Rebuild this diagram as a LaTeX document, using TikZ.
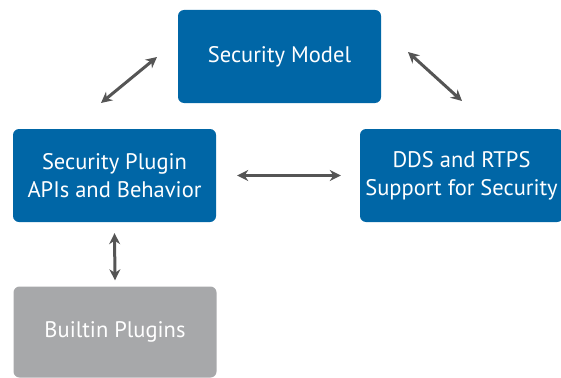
\documentclass[tikz,border=0pt]{standalone}
\usepackage{fontspec}
\setmainfont{PT Sans}
\usetikzlibrary{positioning, arrows, arrows.meta}

\definecolor{secblue}{RGB}{0,102,166}
\definecolor{secgray}{RGB}{167,168,170}
\definecolor{arrowgray}{RGB}{85,85,85}

\tikzset{
    blockbox/.style={fill=secblue, text=white, rounded corners=6pt, minimum width=203pt,
        minimum height=93pt, align=center, font=\fontsize{22.5}{28}\selectfont, inner sep=0pt},
    link/.style={{Stealth[length=11pt,width=11pt]}-{Stealth[length=11pt,width=11pt]}, line width=3pt, draw=arrowgray, shorten >=0pt, shorten <=0pt}
}

\begin{document}
\begin{tikzpicture}[x=1pt, y=1pt]
    \clip (0, 0) rectangle (561, -377);
    \useasboundingbox (0, 0) rectangle (561, -377);

    \node [blockbox] (model) at (279.5, -56.5) {Security Model};
    \node [blockbox] (plugin) at (114.5, -175.5) {Security Plugin\\APIs and Behavior};
    \node [blockbox] (dds) at (461.5, -175.5) {DDS and RTPS\\Support for Security};
    \node [blockbox, fill=secgray, minimum height=91pt] (builtin) at (115, -332) {Builtin Plugins};

    \coordinate (mlA) at (157, -57);
    \coordinate (mlB) at (101, -103);
    \coordinate (mrA) at (408, -52);
    \coordinate (mrB) at (462, -101);

    \draw [link] (mlB) -- (mlA);
    \draw [link] (mrA) -- (mrB);
    \draw [link] ([xshift=21pt]plugin.east) -- ([xshift=-19pt]dds.west);
    \draw [link] ([yshift=-11pt]plugin.south) -- ([yshift=6pt]builtin.north);
\end{tikzpicture}
\end{document}
